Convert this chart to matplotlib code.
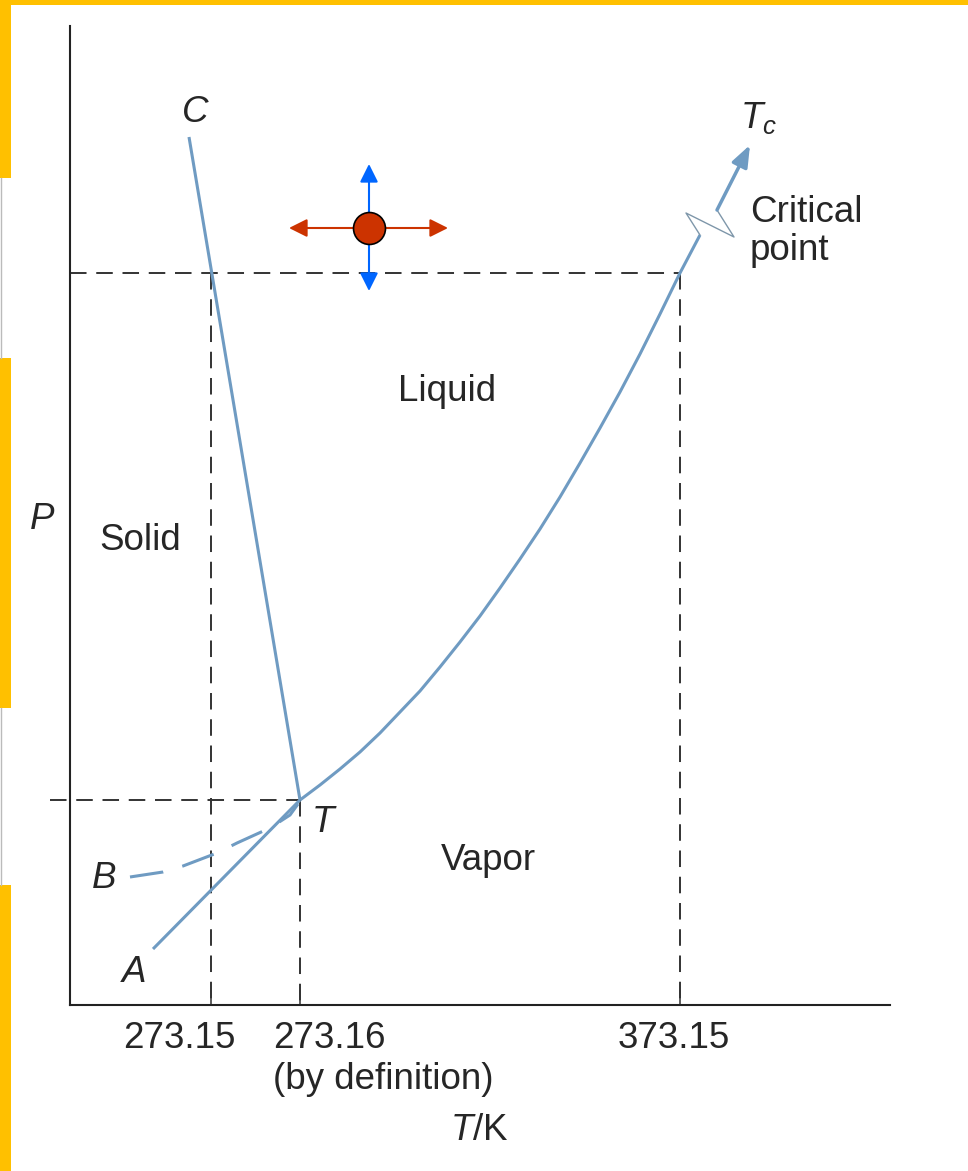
import matplotlib
matplotlib.use('Agg')
import matplotlib.pyplot as plt
from matplotlib.patches import Rectangle, FancyArrowPatch
from matplotlib.transforms import Affine2D
from matplotlib.lines import Line2D

plt.rcParams['font.family'] = ['Liberation Sans', 'DejaVu Sans']
plt.rcParams['mathtext.fontset'] = 'custom'
plt.rcParams['mathtext.it'] = 'Liberation Sans:italic'
plt.rcParams['mathtext.rm'] = 'Liberation Sans'

# ---------------- data (schematic units: x ~ T axis, y ~ P axis) ----------------
tick_pos = [211, 300, 680]
tick_labels = ['273.15', '273.16', '373.15']
tick_label_x = [179, 329, 674]

triple_x, triple_y = 300, 205          # triple point T
boil_p = 732                            # pressure level of the 373.15 K guide line

fusion_x = [189, 300]                   # C -> T (solid/liquid)
fusion_y = [868, 205]
sublim_x = [153, 300]                   # A -> T (solid/vapor)
sublim_y = [56, 205]
vap_x = [300, 320, 340, 360, 380, 400, 420, 440, 460, 480, 500, 520, 540,
         560, 580, 600, 620, 640, 660, 680, 690, 700]              # T -> critical
vap_y = [205, 220, 236, 253, 272, 293, 314, 338, 363, 389, 417, 446, 476,
         508, 542, 577, 613, 651, 691, 732, 751, 770]
meta_x = [130, 163, 183, 217, 237, 270, 290, 298]   # B (supercooled liquid)
meta_y = [128, 133, 139, 152, 162, 177, 190, 201]
break_x = [700, 686, 734, 717]          # axis-break zigzag
break_y = [770, 792, 768, 795]
crit_start = (717, 795)
crit_end = (750, 860)

state_pt = (369, 777)                   # state point with arrows
arrow_left, arrow_right = 289, 448
arrow_up, arrow_down = 841, 714

# ---------------- styling ----------------
PHASE = '#6f9bc2'
DASH = '#333333'
TXT = '#262626'
FS = 26.5

fig = plt.figure(figsize=(9.68, 11.71), dpi=100)
fig.patch.set_facecolor('white')

ax = fig.add_axes([70/968, 166/1171, 820/968, 979/1171])
ax.set_xlim(70, 890)
ax.set_ylim(0, 979)
for s in ['top', 'right']:
    ax.spines[s].set_visible(False)
for s in ['left', 'bottom']:
    ax.spines[s].set_linewidth(1.5)
    ax.spines[s].set_color('#222222')
ax.set_xticks(tick_pos)
ax.set_xticklabels([])
ax.set_yticks([])
ax.tick_params(axis='x', direction='in', length=11, width=1.1, color='#333333')

dash_style = (0, (8.5, 5))
# dashed guide lines
ax.plot([70, vap_x[vap_y.index(boil_p)]], [boil_p, boil_p], ls=dash_style, lw=1.4, color=DASH)
ax.plot([50, triple_x], [triple_y, triple_y], ls=dash_style, lw=1.4, color=DASH, clip_on=False)
ax.plot([tick_pos[0]] * 2, [boil_p, 0], ls=dash_style, lw=1.4, color=DASH)
ax.plot([tick_pos[1]] * 2, [triple_y, 0], ls=dash_style, lw=1.4, color=DASH)
ax.plot([tick_pos[2]] * 2, [boil_p, 0], ls=dash_style, lw=1.4, color=DASH)

# phase boundaries
kw = dict(color=PHASE, lw=2.2, solid_capstyle='butt', solid_joinstyle='round', zorder=3)
ax.plot(fusion_x, fusion_y, **kw)
ax.plot(sublim_x, sublim_y, **kw)
ax.plot(vap_x, vap_y, **kw)
ax.plot(meta_x, meta_y, color=PHASE, lw=2.2, ls=(0, (11, 6.5)), zorder=3)
ax.plot(break_x, break_y, color='#7f97aa', lw=1.0, zorder=3)
ax.add_patch(FancyArrowPatch(crit_start, crit_end,
                             arrowstyle='-|>,head_length=13,head_width=5',
                             mutation_scale=1, lw=2.5, color=PHASE,
                             shrinkA=0, shrinkB=0, zorder=3))

# state point arrows
RED = '#cc3300'
BLUE = '#0066ff'
for tgt, col in [((arrow_left, state_pt[1]), RED), ((arrow_right, state_pt[1]), RED),
                 ((state_pt[0], arrow_up), BLUE), ((state_pt[0], arrow_down), BLUE)]:
    ax.add_patch(FancyArrowPatch(state_pt, tgt,
                                 arrowstyle='-|>,head_length=11,head_width=5.5',
                                 mutation_scale=1, lw=1.5, color=col,
                                 shrinkA=0, shrinkB=0, zorder=4, clip_on=False))
ax.plot(*state_pt, 'o', ms=23, mfc=RED, mec='black', mew=1.2, zorder=5)

# labels
def t(x, y, s, ha='center', style='normal', size=FS):
    ax.text(x, y, s, ha=ha, va='baseline', fontsize=size, color=TXT,
            fontstyle=style, clip_on=False)

t(447, 604, 'Liquid')
t(488, 135, 'Vapor')
t(140, 455, 'Solid')
t(42, 476, 'P', style='italic')
t(195, 883, 'C', style='italic')
t(323, 173, 'T', style='italic')
t(104, 117, 'B', style='italic')
t(134, 23, 'A', style='italic')
t(740, 877, r'$T_c$', ha='left')
t(750, 783, 'Critical', ha='left')
t(750, 745, 'point', ha='left')
for xl, lab in zip(tick_label_x, tick_labels):
    t(xl, -43, lab)
t(273, -84, '(by definition)', ha='left')
t(479, -135, r'$T$/K')

# slide decoration (yellow bars)
pix = Affine2D().scale(1/968, -1/1171).translate(0, 1) + fig.transFigure
GOLD = '#ffc000'
for (x0, y0, w, h) in [(0, 0, 968, 5), (0, 0, 11, 178), (0, 358, 11, 350), (0, 885, 11, 286)]:
    fig.add_artist(Rectangle((x0, y0), w, h, transform=pix, facecolor=GOLD,
                             edgecolor='none', zorder=10))
for (y0, y1) in [(178, 358), (708, 885)]:
    fig.add_artist(Line2D([1, 1], [y0, y1], transform=pix, color='#bbbbbb', lw=1.0, zorder=10))

fig.savefig('out.png', dpi=100)
